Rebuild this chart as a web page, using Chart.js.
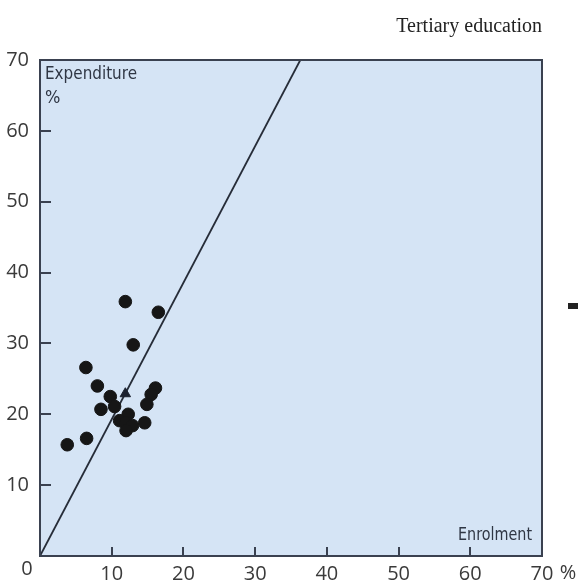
<!DOCTYPE html>
<html>
<head>
<meta charset="utf-8">
<title>Tertiary education</title>
<script src="https://cdn.jsdelivr.net/npm/chart.js@4/dist/chart.umd.min.js"></script>
<style>
  html, body { margin:0; padding:0; background:#ffffff; }
  #wrap { position:relative; width:578px; height:587px; }
</style>
</head>
<body>
<div id="wrap"><canvas id="scatterChart" width="578" height="587"></canvas></div>
<script>
// =====================================================
//  Tertiary education — expenditure vs enrolment share
// =====================================================

// ---- Data ----
const enrolment   = [11.9, 16.5, 13.0, 6.4, 8.0, 16.1, 15.5, 9.8, 14.9, 10.4, 8.5, 12.3, 11.1, 12.0, 12.9, 14.6, 12.0, 6.5, 3.8];
const expenditure = [35.9, 34.4, 29.8, 26.6, 24.0, 23.7, 22.8, 22.5, 21.4, 21.1, 20.7, 20.0, 19.1, 18.8, 18.4, 18.8, 17.7, 16.6, 15.7];
const markerEnrol = [11.9];
const markerExpen = [22.9];
const refLineX    = [0, 36.3];
const refLineY    = [0, 70];
const axisTicks   = [10, 20, 30, 40, 50, 60];

const INK    = '#3a4150';
const FILL   = '#d5e4f5';
const TEXT   = '#3a3a3a';
const FONT   = "'Open Sans', 'Liberation Sans', sans-serif";
const NARROW = "'DejaVu Sans Condensed', 'Liberation Sans Narrow', sans-serif";

const toPts = (xs, ys) => xs.map((x, i) => ({ x, y: ys[i] }));

// ---- Frame, inward ticks, extra labels ----
const framePlugin = {
  id: 'frame',
  beforeDatasetsDraw(chart) {
    const { ctx, chartArea: a } = chart;
    ctx.save();
    ctx.fillStyle = FILL;
    ctx.fillRect(a.left, a.top, a.right - a.left, a.bottom - a.top);
    ctx.restore();
  },
  afterDatasetsDraw(chart) {
    const { ctx, chartArea: a, scales: { x, y } } = chart;
    ctx.save();
    ctx.strokeStyle = INK;
    ctx.lineWidth = 2;
    ctx.strokeRect(a.left, a.top, a.right - a.left, a.bottom - a.top);

    ctx.beginPath();
    axisTicks.forEach(v => {
      const px = Math.round(x.getPixelForValue(v));
      ctx.moveTo(px, a.bottom); ctx.lineTo(px, a.bottom - 9);
      const py = Math.round(y.getPixelForValue(v));
      ctx.moveTo(a.left, py); ctx.lineTo(a.left + 11, py);
    });
    ctx.stroke();

    // axis captions inside the box (squeezed to the original widths)
    ctx.fillStyle = '#2f3644';
    ctx.font = `18px ${NARROW}`;
    ctx.textBaseline = 'alphabetic';
    ctx.textAlign = 'left';
    ctx.fillText('Expenditure', a.left + 5, a.top + 19, 92);
    ctx.fillText('%', a.left + 5, a.top + 43);
    ctx.textAlign = 'right';
    ctx.fillText('Enrolment', a.right - 10, a.bottom - 16, 74);

    // corner "0" and "%" after the last x label
    ctx.fillStyle = TEXT;
    ctx.font = `20px ${FONT}`;
    ctx.textBaseline = 'middle';
    ctx.textAlign = 'center';
    ctx.fillText('0', a.left - 13, a.bottom + 13);
    ctx.fillText('%', x.getPixelForValue(70) + 26, a.bottom + 17);

    // title
    ctx.font = "20px 'Liberation Serif', 'DejaVu Serif', serif";
    ctx.textAlign = 'right';
    ctx.fillStyle = '#222';
    ctx.fillText('Tertiary education', 542, 27);

    // small dark mark at the right edge of the page
    ctx.fillStyle = '#222';
    ctx.fillRect(568, 303, 10, 6);
    ctx.restore();
  },
};

// ---- Chart ----
const ctx = document.getElementById('scatterChart').getContext('2d');
new Chart(ctx, {
  type: 'scatter',
  data: {
    datasets: [
      { type:'line', data: toPts(refLineX, refLineY), borderColor:'#262c38', borderWidth:1.8, pointRadius:0, fill:false, order:3 },
      { data: toPts(enrolment, expenditure), backgroundColor:'#161616', borderColor:'#161616', pointRadius:6.3, order:1 },
      { data: toPts(markerEnrol, markerExpen), pointStyle:'triangle', backgroundColor:'#1c2230', borderColor:'#1c2230', pointRadius:6, order:2 },
    ],
  },
  options: {
    responsive: false,
    animation: false,
    layout: { padding: { top:60, right:36, left:0, bottom:0 } },
    plugins: { legend: { display:false }, tooltip: { enabled:false } },
    scales: {
      x: {
        type:'linear', min:0, max:70,
        afterFit: s => { s.height = 31; },
        border: { display:false },
        grid: { display:false, drawTicks:false },
        ticks: { stepSize:10, padding:6, color:TEXT, font:{ family:FONT, size:20 }, callback: v => v === 0 ? '' : v },
      },
      y: {
        type:'linear', min:0, max:70,
        afterFit: s => { s.width = 40; },
        border: { display:false },
        grid: { display:false, drawTicks:false },
        ticks: { stepSize:10, padding:11, color:TEXT, font:{ family:FONT, size:20 }, callback: v => v === 0 ? '' : v },
      },
    },
  },
  plugins: [framePlugin],
});
</script>
</body>
</html>
